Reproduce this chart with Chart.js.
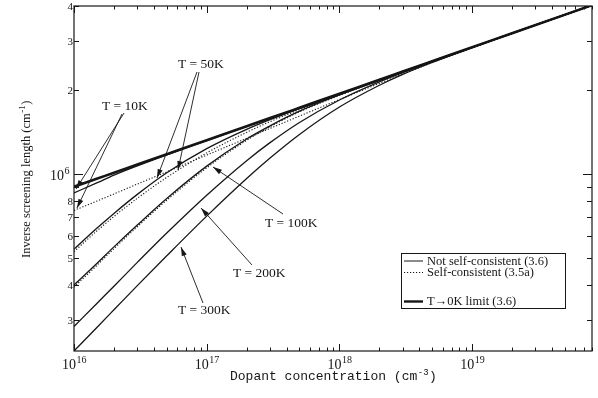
<!DOCTYPE html>
<html>
<head>
<meta charset="utf-8">
<script src="https://cdn.jsdelivr.net/npm/chart.js@4.4.0/dist/chart.umd.min.js"></script>
<style>
  html, body { margin: 0; padding: 0; background: #fff; }
</style>
</head>
<body>
<canvas id="screening" width="598" height="398"></canvas>
<script>
const conc = [1e16, 1.5e16, 2e16, 3e16, 5e16, 1e17, 2e17, 3e17, 5e17, 1e18, 2e18, 3e18, 5e18, 1e19, 2e19, 8e19];

// T -> 0K limit (3.6), thick line
const limit0K = [9.00e5, 9.63e5, 1.010e6, 1.081e6, 1.177e6, 1.321e6, 1.483e6, 1.586e6, 1.727e6, 1.939e6, 2.176e6, 2.329e6, 2.536e6, 2.846e6, 3.195e6, 4.025e6];

// not self-consistent (3.6), thin solid
const nsc10  = [8.55e5, 9.31e5, 9.90e5, 1.069e6, 1.171e6, 1.318e6, 1.482e6, 1.585e6, 1.726e6, 1.939e6, 2.176e6, 2.329e6, 2.536e6, 2.846e6, 3.195e6, 4.025e6];
const nsc50  = [5.375e5, 6.41e5, 7.22e5, 8.45e5, 1.010e6, 1.233e6, 1.446e6, 1.566e6, 1.716e6, 1.934e6, 2.174e6, 2.328e6, 2.536e6, 2.846e6, 3.195e6, 4.025e6];
const nsc100 = [4.00e5, 4.80e5, 5.48e5, 6.56e5, 8.17e5, 1.067e6, 1.335e6, 1.488e6, 1.679e6, 1.919e6, 2.167e6, 2.323e6, 2.533e6, 2.845e6, 3.195e6, 4.025e6];
const nsc200 = [2.84e5, 3.45e5, 3.96e5, 4.82e5, 6.14e5, 8.39e5, 1.116e6, 1.295e6, 1.530e6, 1.842e6, 2.140e6, 2.307e6, 2.524e6, 2.841e6, 3.193e6, 4.025e6];
const nsc300 = [2.32e5, 2.83e5, 3.26e5, 3.98e5, 5.09e5, 7.06e5, 9.63e5, 1.140e6, 1.385e6, 1.737e6, 2.079e6, 2.275e6, 2.509e6, 2.834e6, 3.190e6, 4.025e6];

// self-consistent (3.5a), dotted
const sc10  = [7.40e5, 8.01e5, 8.48e5, 9.20e5, 1.018e6, 1.169e6, 1.343e6, 1.457e6, 1.612e6, 1.848e6, 2.112e6, 2.281e6, 2.507e6, 2.833e6, 3.188e6, 4.025e6];
const sc50  = [5.27e5, 6.27e5, 7.04e5, 8.18e5, 9.72e5, 1.190e6, 1.410e6, 1.540e6, 1.700e6, 1.925e6, 2.168e6, 2.325e6, 2.534e6, 2.845e6, 3.194e6, 4.025e6];
const sc100 = [3.93e5, 4.72e5, 5.40e5, 6.47e5, 8.05e5, 1.052e6, 1.320e6, 1.476e6, 1.670e6, 1.912e6, 2.163e6, 2.320e6, 2.532e6, 2.845e6, 3.195e6, 4.025e6];

// axis ticks
const xDecades = [1e16, 1e17, 1e18, 1e19];
const xMinor = [2,3,4,5,6,7,8,9];
const yTicks = [3e5, 4e5, 5e5, 6e5, 7e5, 8e5, 9e5, 1e6, 2e6, 3e6, 4e6];
const yTickLabels = ['3', '4', '5', '6', '7', '8', '', '10^6', '2', '3', '4'];

const ink = '#161616';
const serif = '"Liberation Serif", "DejaVu Serif", serif';
const mono = '"Liberation Mono", "DejaVu Sans Mono", monospace';

function series(vals, width, dash) {
  return {
    data: conc.map((n, i) => ({ x: n, y: vals[i] })),
    borderColor: ink,
    borderWidth: width,
    borderDash: dash || [],
    pointRadius: 0,
    fill: false,
    cubicInterpolationMode: 'monotone'
  };
}

// text with a raised exponent, "10^6" style
function withPower(ctx, str, x, y, size, font, align) {
  const parts = str.split('^');
  ctx.font = size + 'px ' + font;
  const w1 = ctx.measureText(parts[0]).width;
  const supSize = Math.round(size * 0.68);
  ctx.font = supSize + 'px ' + font;
  const w2 = parts[1] ? ctx.measureText(parts[1]).width : 0;
  const total = w1 + w2;
  let x0 = x;
  if (align === 'center') x0 = x - total / 2;
  if (align === 'right') x0 = x - total;
  ctx.textAlign = 'left';
  ctx.font = size + 'px ' + font;
  ctx.fillText(parts[0], x0, y);
  if (parts[1]) {
    ctx.font = supSize + 'px ' + font;
    ctx.fillText(parts[1], x0 + w1 + 0.5, y - size * 0.42);
  }
  return total;
}

function arrow(ctx, x1, y1, x2, y2) {
  ctx.beginPath();
  ctx.moveTo(x1, y1);
  ctx.lineTo(x2, y2);
  ctx.stroke();
  const a = Math.atan2(y2 - y1, x2 - x1), L = 9, W = 2.6;
  ctx.beginPath();
  ctx.moveTo(x2, y2);
  ctx.lineTo(x2 - L * Math.cos(a) + W * Math.sin(a), y2 - L * Math.sin(a) - W * Math.cos(a));
  ctx.lineTo(x2 - L * Math.cos(a) - W * Math.sin(a), y2 - L * Math.sin(a) + W * Math.cos(a));
  ctx.closePath();
  ctx.fill();
}

// temperature labels and their pointers (pixels)
const notes = [
  { text: 'T = 10K', x: 102, y: 110, arrows: [[124, 113, 76, 189], [122, 114, 77, 208]] },
  { text: 'T = 50K', x: 178, y: 68, arrows: [[197, 72, 157, 178], [199, 72, 178, 170]] },
  { text: 'T = 100K', x: 265, y: 227, arrows: [[283, 214, 213, 167]] },
  { text: 'T = 200K', x: 233, y: 277, arrows: [[252, 265, 201, 208]] },
  { text: 'T = 300K', x: 178, y: 314, arrows: [[203, 303, 181, 247]] }
];

const legendItems = [
  { label: 'Not self-consistent (3.6)', width: 1, dash: [], y: 261 },
  { label: 'Self-consistent (3.5a)', width: 1, dash: [1.2, 1.8], y: 272.5 },
  { label: 'T\u21920K limit (3.6)', width: 2.4, dash: [], y: 301.5 }
];

const decor = {
  id: 'decor',
  afterDraw(chart) {
    const { ctx, chartArea: a, scales: { x, y } } = chart;
    ctx.save();
    ctx.strokeStyle = ink;
    ctx.fillStyle = ink;
    ctx.lineWidth = 1.2;
    ctx.strokeRect(a.left, a.top, a.right - a.left, a.bottom - a.top);

    // inward ticks, x
    ctx.lineWidth = 1;
    xDecades.forEach(d => {
      [1].concat(xMinor).forEach(m => {
        const v = d * m;
        if (v > x.max) return;
        const px = Math.round(x.getPixelForValue(v)) + 0.5;
        const len = m === 1 ? 7 : 3.5;
        ctx.beginPath();
        ctx.moveTo(px, a.bottom); ctx.lineTo(px, a.bottom - len);
        ctx.moveTo(px, a.top); ctx.lineTo(px, a.top + len);
        ctx.stroke();
      });
    });
    // inward ticks, y
    yTicks.forEach(v => {
      const py = Math.round(y.getPixelForValue(v)) + 0.5;
      const len = v === 1e6 ? 9 : 5;
      ctx.beginPath();
      ctx.moveTo(a.left, py); ctx.lineTo(a.left + len, py);
      ctx.moveTo(a.right, py); ctx.lineTo(a.right - len, py);
      ctx.stroke();
    });

    // tick labels
    ctx.textBaseline = 'alphabetic';
    xDecades.forEach(d => {
      const px = x.getPixelForValue(d);
      withPower(ctx, '10^' + Math.round(Math.log10(d)), px, 369, 14, serif, 'center');
    });
    yTicks.forEach((v, i) => {
      const lab = yTickLabels[i];
      if (!lab) return;
      const py = y.getPixelForValue(v);
      if (lab.indexOf('^') >= 0) {
        withPower(ctx, lab, a.left - 5, py + 6, 14, serif, 'right');
      } else {
        withPower(ctx, lab, a.left - 1, py + 4, 11, serif, 'right');
      }
    });

    // axis titles
    const wx = withPower(ctx, 'Dopant concentration (cm^-3', 230, 380, 13, mono, 'left');
    ctx.font = '13px ' + mono;
    ctx.fillText(')', 230 + wx + 1, 380);

    ctx.save();
    ctx.translate(30, 258);
    ctx.rotate(-Math.PI / 2);
    const wy = withPower(ctx, 'Inverse screening length (cm^-1', 0, 0, 12.5, serif, 'left');
    ctx.font = '12.5px ' + serif;
    ctx.fillText(')', wy + 1, 0);
    ctx.restore();

    // temperature notes
    ctx.lineWidth = 0.9;
    notes.forEach(n => {
      ctx.font = '13.5px ' + serif;
      ctx.textAlign = 'left';
      ctx.fillText(n.text, n.x, n.y);
      n.arrows.forEach(p => arrow(ctx, p[0], p[1], p[2], p[3]));
    });

    // legend box
    ctx.lineWidth = 1;
    ctx.strokeRect(401.5, 253.5, 164, 55);
    legendItems.forEach(it => {
      ctx.lineWidth = it.width;
      ctx.setLineDash(it.dash);
      ctx.beginPath();
      ctx.moveTo(404, it.y); ctx.lineTo(423, it.y);
      ctx.stroke();
      ctx.setLineDash([]);
      ctx.font = '12.5px ' + serif;
      ctx.textAlign = 'left';
      ctx.fillText(it.label, 427, it.y + 3.5);
    });
    ctx.restore();
  }
};

new Chart(document.getElementById('screening'), {
  type: 'line',
  data: {
    datasets: [
      series(nsc300, 1.3),
      series(nsc200, 1.3),
      series(nsc100, 1.3),
      series(sc100, 1.1, [1.2, 1.8]),
      series(nsc50, 1.3),
      series(sc50, 1.1, [1.2, 1.8]),
      series(sc10, 1.1, [1.2, 1.8]),
      series(nsc10, 1.3),
      series(limit0K, 2.6)
    ]
  },
  options: {
    responsive: false,
    animation: false,
    devicePixelRatio: 1,
    layout: { padding: { left: 74, right: 6, top: 6, bottom: 47 } },
    plugins: { legend: { display: false }, tooltip: { enabled: false } },
    scales: {
      x: { type: 'logarithmic', min: 1e16, max: 8e19, display: false },
      y: { type: 'logarithmic', min: 2.32e5, max: 4e6, display: false }
    }
  },
  plugins: [decor]
});
</script>
</body>
</html>
